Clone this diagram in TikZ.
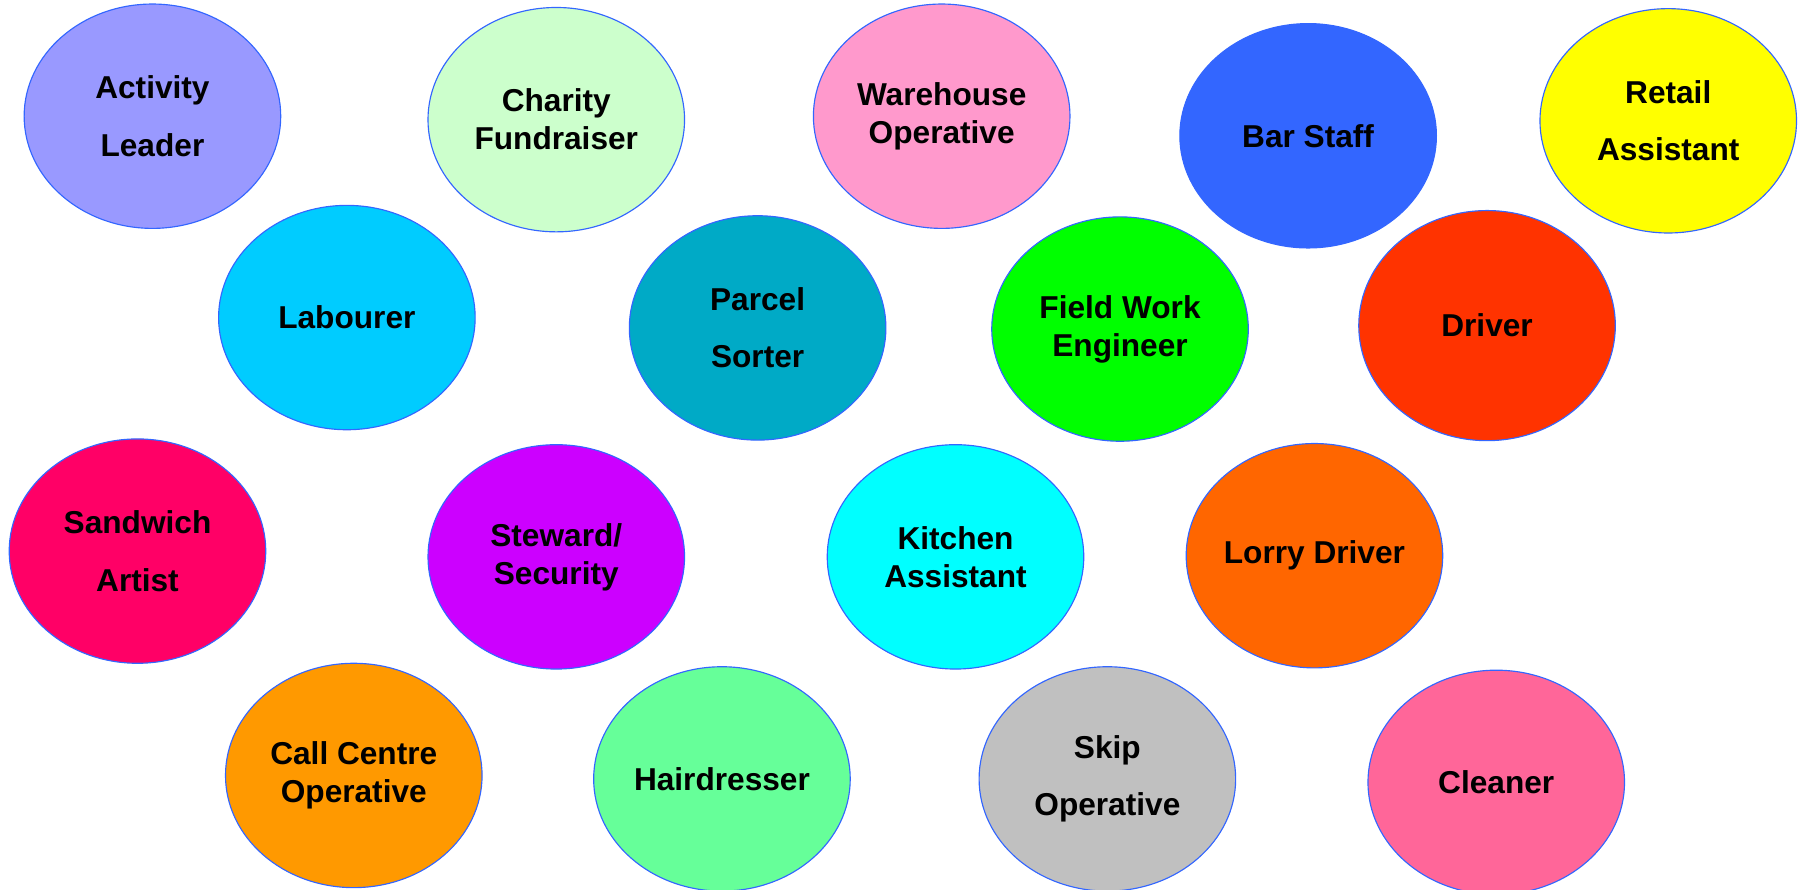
\documentclass[tikz,border=0pt]{standalone}
\usepackage{fontspec}
\setmainfont{Liberation Sans}
\usetikzlibrary{shapes.geometric}

\definecolor{cLavender}{HTML}{9999FF}
\definecolor{cMint}{HTML}{CCFFCC}
\definecolor{cPink}{HTML}{FF99CC}
\definecolor{cRoyal}{HTML}{3366FF}
\definecolor{cYellow}{HTML}{FFFF00}
\definecolor{cSky}{HTML}{00CCFF}
\definecolor{cTeal}{HTML}{00AAC6}
\definecolor{cLime}{HTML}{00FF00}
\definecolor{cRed}{HTML}{FF3300}
\definecolor{cRose}{HTML}{FF0066}
\definecolor{cViolet}{HTML}{CC00FF}
\definecolor{cCyan}{HTML}{00FFFF}
\definecolor{cOrange}{HTML}{FF6600}
\definecolor{cAmber}{HTML}{FF9900}
\definecolor{cSeafoam}{HTML}{66FF99}
\definecolor{cSilver}{HTML}{C0C0C0}
\definecolor{cBlush}{HTML}{FF6699}

\begin{document}
\begin{tikzpicture}[
    x=0.5pt, y=-0.5pt,
    % --- styles ---
    job/.style = {ellipse, draw=cRoyal, line width=0.5pt, fill=#1,
                  minimum width=111.5pt, minimum height=97.5pt, inner sep=0pt,
                  align=center, font=\fontsize{13.75}{16.5}\selectfont\bfseries}, % one job bubble
    ]
    \def\gap{8.5pt} % extra space for the loose two-line labels

    % --- canvas ---
    \useasboundingbox (0,0) rectangle (1568,773);

    % --- first row ---
    \node[job=cLavender] (activity)  at (132.5,101) {Activity\\[\gap]Leader};
    \node[job=cMint]     (charity)   at (483.5,104) {Charity\\Fundraiser};
    \node[job=cPink]     (warehouse) at (818.5,101) {Warehouse\\Operative};
    \node[job=cRoyal]    (barstaff)  at (1137,118)  {Bar Staff};
    \node[job=cYellow]   (retail)    at (1450,105)  {Retail\\[\gap]Assistant};

    % --- second row ---
    \node[job=cSky]      (labourer)  at (301.5,276) {Labourer};
    \node[job=cTeal]     (parcel)    at (658.5,285) {Parcel\\[\gap]Sorter};
    \node[job=cLime]     (fieldwork) at (973.5,286) {Field Work\\Engineer};
    \node[job=cRed, minimum height=100pt] (driver) at (1292.5,283) {Driver};

    % --- third row ---
    \node[job=cRose]     (sandwich)  at (119.5,479) {Sandwich\\[\gap]Artist};
    \node[job=cViolet]   (steward)   at (483.5,484) {Steward/\\Security};
    \node[job=cCyan]     (kitchen)   at (830.5,484) {Kitchen\\Assistant};
    \node[job=cOrange]   (lorry)     at (1142.5,483) {Lorry Driver};

    % --- fourth row ---
    \node[job=cAmber]    (callcentre) at (307.5,674) {Call Centre\\Operative};
    \node[job=cSeafoam]  (hair)       at (627.5,677) {Hairdresser};
    \node[job=cSilver]   (skip)       at (962.5,677) {Skip\\[\gap]Operative};
    \node[job=cBlush]    (cleaner)    at (1300.5,680) {Cleaner};
\end{tikzpicture}
\end{document}
